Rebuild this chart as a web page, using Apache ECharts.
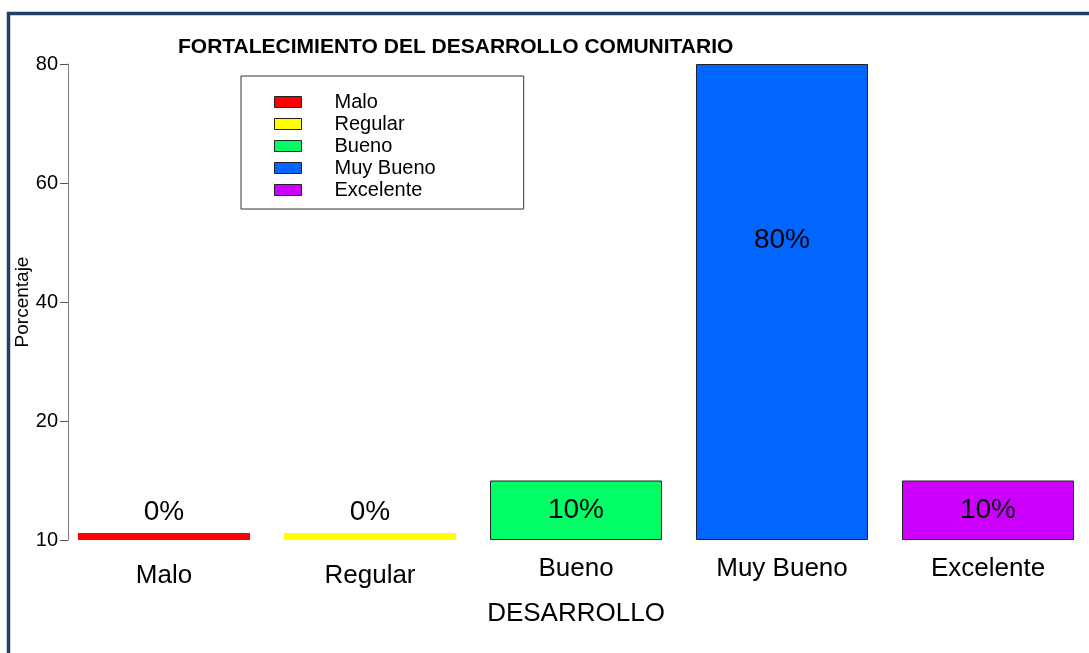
<!DOCTYPE html>
<html>
<head>
<meta charset="utf-8">
<script src="https://cdn.jsdelivr.net/npm/echarts@6/dist/echarts.min.js"></script>
<style>
	html, body { margin: 0; padding: 0; background: #fff; }
	#chart { width: 1089px; height: 653px; }
</style>
</head>
<body>
<div id="chart"></div>
<script>
const categories = ["Malo", "Regular", "Bueno", "Muy Bueno", "Excelente"];
const values = [0, 0, 10, 80, 10];
const colors = ["#ff0000", "#ffff00", "#00ff66", "#0066ff", "#cc00ff"];
const yTickLabels = ["10", "20", "40", "60", "80"];

const FONT = "Liberation Sans, Arial, sans-serif";

// una serie por categoria para que la leyenda las muestre
function buildSeries() {
	return categories.map((name, i) => {
		const data = categories.map((c, j) => (j === i ? values[i] : "-"));
		const zero = values[i] === 0;
		let label = {
			show: true,
			formatter: p => p.value + "%",
			fontSize: 28,
			fontFamily: FONT,
			color: "#000",
		};
		if (zero) {
			label.position = "top";
			label.distance = 7;
		} else if (values[i] > 40) {
			label.position = ["50%", 176];
			label.align = "center";
			label.verticalAlign = "middle";
		} else {
			label.position = "inside";
		}
		return {
			name: name,
			type: "bar",
			data: data,
			barWidth: 172,
			barGap: "-100%",
			barMinHeight: zero ? 7 : 0,
			itemStyle: {
				color: colors[i],
				borderColor: zero ? colors[i] : "#222",
				borderWidth: zero ? 0 : 1,
			},
			label: label,
		};
	});
}

const myChart = echarts.init(document.getElementById("chart"));
myChart.setOption({
	animation: false,
	textStyle: { fontFamily: FONT },
	title: {
		text: "FORTALECIMIENTO DEL DESARROLLO COMUNITARIO",
		left: 173,
		top: 32,
		textStyle: { fontSize: 21, fontWeight: "bold", color: "#000", fontFamily: FONT },
	},
	graphic: [
		{
			type: "rect",
			shape: { x: 8.5, y: 13.5, width: 1300, height: 900 },
			style: { fill: "none", stroke: "#1f3f66", lineWidth: 3.5 },
			silent: true,
		},
	],
	legend: {
		orient: "vertical",
		left: 241,
		top: 76,
		padding: [15, 88, 8, 33],
		itemGap: 0,
		itemWidth: 27,
		itemHeight: 11,
		icon: "rect",
		borderColor: "#333",
		borderWidth: 1,
		data: categories,
		itemStyle: { borderColor: "#222", borderWidth: 1 },
		textStyle: {
			fontSize: 20,
			lineHeight: 22,
			color: "#000",
			fontFamily: FONT,
			padding: [0, 0, 0, 28],
		},
	},
	grid: { left: 61, width: 1030, top: 64, height: 476, outerBoundsMode: "none" },
	xAxis: {
		type: "category",
		data: categories.map((c, i) => ({
			value: c,
			textStyle: { padding: [values[i] === 0 ? 7 : 0, 0, 0, 0] },
		})),
		name: "DESARROLLO",
		nameLocation: "middle",
		nameGap: 61,
		nameTextStyle: { fontSize: 26, color: "#000", fontFamily: FONT },
		axisLine: { show: false },
		axisTick: { show: false },
		axisLabel: { fontSize: 26, color: "#000", margin: 16, fontFamily: FONT },
	},
	yAxis: {
		type: "value",
		min: 0,
		max: 80,
		interval: 20,
		offset: -7,
		name: "Porcentaje",
		nameLocation: "middle",
		nameRotate: 90,
		nameGap: 36,
		nameMoveOverlap: false,
		nameTextStyle: { fontSize: 19, color: "#000", fontFamily: FONT },
		axisLine: { show: true, lineStyle: { color: "#808080", width: 1 } },
		axisTick: { show: true, length: 8, lineStyle: { color: "#555" } },
		axisLabel: {
			fontSize: 20,
			color: "#000",
			margin: 10,
			fontFamily: FONT,
			formatter: v => yTickLabels[v / 20],
		},
		splitLine: { show: false },
	},
	series: buildSeries(),
});
</script>
</body>
</html>
